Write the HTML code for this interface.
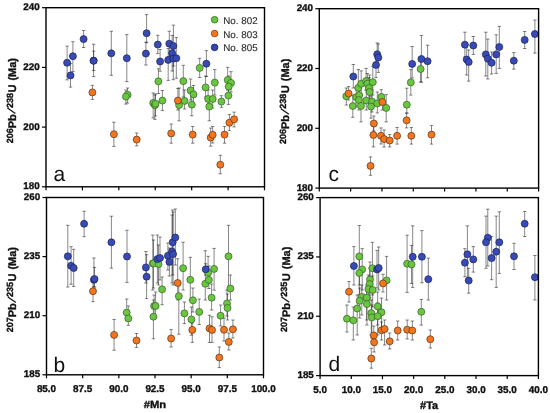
<!DOCTYPE html><html><head><meta charset="utf-8"><style>html,body{margin:0;padding:0;background:#fff;overflow:hidden}svg{display:block;will-change:transform}text{font-family:"Liberation Sans",sans-serif}.bt{fill:#111;stroke:#111;stroke-width:0.35px}</style></head><body>
<svg width="550" height="413" viewBox="0 0 550 413" text-rendering="geometricPrecision">
<rect width="550" height="413" fill="#fff"/>
<clipPath id="cpa"><rect x="46" y="7.7" width="218.5" height="179.1"/></clipPath>
<g clip-path="url(#cpa)">
<path d="M127.6 88V103M125.9 88H129.3M125.9 103H129.3" stroke="#000" stroke-opacity="0.47" stroke-width="1" fill="none"/>
<path d="M125.9 90V104.1M124.2 90H127.6M124.2 104.1H127.6" stroke="#000" stroke-opacity="0.47" stroke-width="1" fill="none"/>
<path d="M158.4 68.8V93.5M156.7 68.8H160.1M156.7 93.5H160.1" stroke="#000" stroke-opacity="0.47" stroke-width="1" fill="none"/>
<path d="M162.4 90.5V110.6M160.7 90.5H164.1M160.7 110.6H164.1" stroke="#000" stroke-opacity="0.47" stroke-width="1" fill="none"/>
<path d="M153.2 93V118M151.5 93H154.9M151.5 118H154.9" stroke="#000" stroke-opacity="0.47" stroke-width="1" fill="none"/>
<path d="M154.9 95V119.4M153.2 95H156.6M153.2 119.4H156.6" stroke="#000" stroke-opacity="0.47" stroke-width="1" fill="none"/>
<path d="M155.5 94V116M153.8 94H157.2M153.8 116H157.2" stroke="#000" stroke-opacity="0.47" stroke-width="1" fill="none"/>
<path d="M183.3 65.3V97.1M181.6 65.3H185M181.6 97.1H185" stroke="#000" stroke-opacity="0.47" stroke-width="1" fill="none"/>
<path d="M184.6 89.9V109M182.9 89.9H186.3M182.9 109H186.3" stroke="#000" stroke-opacity="0.47" stroke-width="1" fill="none"/>
<path d="M179.1 88V120.8M177.4 88H180.8M177.4 120.8H180.8" stroke="#000" stroke-opacity="0.47" stroke-width="1" fill="none"/>
<path d="M190.6 79V100M188.9 79H192.3M188.9 100H192.3" stroke="#000" stroke-opacity="0.47" stroke-width="1" fill="none"/>
<path d="M193.5 85.5V104M191.8 85.5H195.2M191.8 104H195.2" stroke="#000" stroke-opacity="0.47" stroke-width="1" fill="none"/>
<path d="M191.8 95V115.8M190.1 95H193.5M190.1 115.8H193.5" stroke="#000" stroke-opacity="0.47" stroke-width="1" fill="none"/>
<path d="M199.7 58.3V77.5M198 58.3H201.4M198 77.5H201.4" stroke="#000" stroke-opacity="0.47" stroke-width="1" fill="none"/>
<path d="M205.6 76V97M203.9 76H207.3M203.9 97H207.3" stroke="#000" stroke-opacity="0.47" stroke-width="1" fill="none"/>
<path d="M208.1 90V108M206.4 90H209.8M206.4 108H209.8" stroke="#000" stroke-opacity="0.47" stroke-width="1" fill="none"/>
<path d="M212.7 90V108M211 90H214.4M211 108H214.4" stroke="#000" stroke-opacity="0.47" stroke-width="1" fill="none"/>
<path d="M209.3 97V120.8M207.6 97H211M207.6 120.8H211" stroke="#000" stroke-opacity="0.47" stroke-width="1" fill="none"/>
<path d="M214.8 69.6V95M213.1 69.6H216.5M213.1 95H216.5" stroke="#000" stroke-opacity="0.47" stroke-width="1" fill="none"/>
<path d="M221.4 95.7V107.3M219.7 95.7H223.1M219.7 107.3H223.1" stroke="#000" stroke-opacity="0.47" stroke-width="1" fill="none"/>
<path d="M227.7 67.3V90M226 67.3H229.4M226 90H229.4" stroke="#000" stroke-opacity="0.47" stroke-width="1" fill="none"/>
<path d="M231 71.7V92M229.3 71.7H232.7M229.3 92H232.7" stroke="#000" stroke-opacity="0.47" stroke-width="1" fill="none"/>
<path d="M228.7 76V96M227 76H230.4M227 96H230.4" stroke="#000" stroke-opacity="0.47" stroke-width="1" fill="none"/>
<path d="M228.4 86V104.4M226.7 86H230.1M226.7 104.4H230.1" stroke="#000" stroke-opacity="0.47" stroke-width="1" fill="none"/>
<path d="M92.4 85.3V99.4M90.7 85.3H94.1M90.7 99.4H94.1" stroke="#000" stroke-opacity="0.47" stroke-width="1" fill="none"/>
<path d="M113.9 122.2V146.4M112.2 122.2H115.6M112.2 146.4H115.6" stroke="#000" stroke-opacity="0.47" stroke-width="1" fill="none"/>
<path d="M136.7 133V145.9M135 133H138.4M135 145.9H138.4" stroke="#000" stroke-opacity="0.47" stroke-width="1" fill="none"/>
<path d="M171.2 124V143.2M169.5 124H172.9M169.5 143.2H172.9" stroke="#000" stroke-opacity="0.47" stroke-width="1" fill="none"/>
<path d="M177.9 88.4V110M176.2 88.4H179.6M176.2 110H179.6" stroke="#000" stroke-opacity="0.47" stroke-width="1" fill="none"/>
<path d="M192.7 126.5V143.2M191 126.5H194.4M191 143.2H194.4" stroke="#000" stroke-opacity="0.47" stroke-width="1" fill="none"/>
<path d="M210.7 128V146.2M209 128H212.4M209 146.2H212.4" stroke="#000" stroke-opacity="0.47" stroke-width="1" fill="none"/>
<path d="M212.7 126.5V143M211 126.5H214.4M211 143H214.4" stroke="#000" stroke-opacity="0.47" stroke-width="1" fill="none"/>
<path d="M224.5 126.5V143.2M222.8 126.5H226.2M222.8 143.2H226.2" stroke="#000" stroke-opacity="0.47" stroke-width="1" fill="none"/>
<path d="M229.4 114.6V130.6M227.7 114.6H231.1M227.7 130.6H231.1" stroke="#000" stroke-opacity="0.47" stroke-width="1" fill="none"/>
<path d="M234.1 112.1V126.9M232.4 112.1H235.8M232.4 126.9H235.8" stroke="#000" stroke-opacity="0.47" stroke-width="1" fill="none"/>
<path d="M220.3 155.3V173.8M218.6 155.3H222M218.6 173.8H222" stroke="#000" stroke-opacity="0.47" stroke-width="1" fill="none"/>
<path d="M67.1 46.1V79.9M65.4 46.1H68.8M65.4 79.9H68.8" stroke="#000" stroke-opacity="0.47" stroke-width="1" fill="none"/>
<path d="M72.9 41.7V71.5M71.2 41.7H74.6M71.2 71.5H74.6" stroke="#000" stroke-opacity="0.47" stroke-width="1" fill="none"/>
<path d="M70.5 63.5V87.1M68.8 63.5H72.2M68.8 87.1H72.2" stroke="#000" stroke-opacity="0.47" stroke-width="1" fill="none"/>
<path d="M83.6 30.5V47.5M81.9 30.5H85.3M81.9 47.5H85.3" stroke="#000" stroke-opacity="0.47" stroke-width="1" fill="none"/>
<path d="M93.6 44.2V76.6M91.9 44.2H95.3M91.9 76.6H95.3" stroke="#000" stroke-opacity="0.47" stroke-width="1" fill="none"/>
<path d="M93.6 51.1V70.5M91.9 51.1H95.3M91.9 70.5H95.3" stroke="#000" stroke-opacity="0.47" stroke-width="1" fill="none"/>
<path d="M111.3 31.3V75.3M109.6 31.3H113M109.6 75.3H113" stroke="#000" stroke-opacity="0.47" stroke-width="1" fill="none"/>
<path d="M126.8 34.6V81.6M125.1 34.6H128.5M125.1 81.6H128.5" stroke="#000" stroke-opacity="0.47" stroke-width="1" fill="none"/>
<path d="M146.6 14.6V42.7M144.9 14.6H148.3M144.9 42.7H148.3" stroke="#000" stroke-opacity="0.47" stroke-width="1" fill="none"/>
<path d="M145.9 42.2V65M144.2 42.2H147.6M144.2 65H147.6" stroke="#000" stroke-opacity="0.47" stroke-width="1" fill="none"/>
<path d="M157.8 35.3V53.6M156.1 35.3H159.5M156.1 53.6H159.5" stroke="#000" stroke-opacity="0.47" stroke-width="1" fill="none"/>
<path d="M160.1 49.5V71.2M158.4 49.5H161.8M158.4 71.2H161.8" stroke="#000" stroke-opacity="0.47" stroke-width="1" fill="none"/>
<path d="M169.3 31.2V56.5M167.6 31.2H171M167.6 56.5H171" stroke="#000" stroke-opacity="0.47" stroke-width="1" fill="none"/>
<path d="M173.4 25.1V66M171.7 25.1H175.1M171.7 66H175.1" stroke="#000" stroke-opacity="0.47" stroke-width="1" fill="none"/>
<path d="M172.2 35.4V71M170.5 35.4H173.9M170.5 71H173.9" stroke="#000" stroke-opacity="0.47" stroke-width="1" fill="none"/>
<path d="M168.2 48.5V80.4M166.5 48.5H169.9M166.5 80.4H169.9" stroke="#000" stroke-opacity="0.47" stroke-width="1" fill="none"/>
<path d="M173.3 44V79.7M171.6 44H175M171.6 79.7H175" stroke="#000" stroke-opacity="0.47" stroke-width="1" fill="none"/>
<path d="M176.3 37.6V78.2M174.6 37.6H178M174.6 78.2H178" stroke="#000" stroke-opacity="0.47" stroke-width="1" fill="none"/>
<path d="M206.4 50.6V76.5M204.7 50.6H208.1M204.7 76.5H208.1" stroke="#000" stroke-opacity="0.47" stroke-width="1" fill="none"/>
<circle cx="127.6" cy="94.7" r="3.5" fill="#6ac63e" stroke="#36602a" stroke-width="0.7"/>
<circle cx="125.9" cy="96.6" r="3.5" fill="#6ac63e" stroke="#36602a" stroke-width="0.7"/>
<circle cx="158.4" cy="81.3" r="3.5" fill="#6ac63e" stroke="#36602a" stroke-width="0.7"/>
<circle cx="162.4" cy="100.6" r="3.5" fill="#6ac63e" stroke="#36602a" stroke-width="0.7"/>
<circle cx="153.2" cy="103" r="3.5" fill="#6ac63e" stroke="#36602a" stroke-width="0.7"/>
<circle cx="154.9" cy="105.2" r="3.5" fill="#6ac63e" stroke="#36602a" stroke-width="0.7"/>
<circle cx="155.5" cy="103.8" r="3.5" fill="#6ac63e" stroke="#36602a" stroke-width="0.7"/>
<circle cx="183.3" cy="81.1" r="3.5" fill="#6ac63e" stroke="#36602a" stroke-width="0.7"/>
<circle cx="184.6" cy="100.9" r="3.5" fill="#6ac63e" stroke="#36602a" stroke-width="0.7"/>
<circle cx="179.1" cy="105.1" r="3.5" fill="#6ac63e" stroke="#36602a" stroke-width="0.7"/>
<circle cx="190.6" cy="90.4" r="3.5" fill="#6ac63e" stroke="#36602a" stroke-width="0.7"/>
<circle cx="193.5" cy="94.4" r="3.5" fill="#6ac63e" stroke="#36602a" stroke-width="0.7"/>
<circle cx="191.8" cy="104.7" r="3.5" fill="#6ac63e" stroke="#36602a" stroke-width="0.7"/>
<circle cx="199.7" cy="67.9" r="3.5" fill="#6ac63e" stroke="#36602a" stroke-width="0.7"/>
<circle cx="205.6" cy="87.4" r="3.5" fill="#6ac63e" stroke="#36602a" stroke-width="0.7"/>
<circle cx="208.1" cy="98.9" r="3.5" fill="#6ac63e" stroke="#36602a" stroke-width="0.7"/>
<circle cx="212.7" cy="99" r="3.5" fill="#6ac63e" stroke="#36602a" stroke-width="0.7"/>
<circle cx="209.3" cy="106.6" r="3.5" fill="#6ac63e" stroke="#36602a" stroke-width="0.7"/>
<circle cx="214.8" cy="82.6" r="3.5" fill="#6ac63e" stroke="#36602a" stroke-width="0.7"/>
<circle cx="221.4" cy="101.6" r="3.5" fill="#6ac63e" stroke="#36602a" stroke-width="0.7"/>
<circle cx="227.7" cy="80" r="3.5" fill="#6ac63e" stroke="#36602a" stroke-width="0.7"/>
<circle cx="231" cy="82.9" r="3.5" fill="#6ac63e" stroke="#36602a" stroke-width="0.7"/>
<circle cx="228.7" cy="86.6" r="3.5" fill="#6ac63e" stroke="#36602a" stroke-width="0.7"/>
<circle cx="228.4" cy="95.6" r="3.5" fill="#6ac63e" stroke="#36602a" stroke-width="0.7"/>
<circle cx="92.4" cy="92.4" r="3.5" fill="#f3761f" stroke="#5a3318" stroke-width="0.7"/>
<circle cx="113.9" cy="134.2" r="3.5" fill="#f3761f" stroke="#5a3318" stroke-width="0.7"/>
<circle cx="136.7" cy="139.6" r="3.5" fill="#f3761f" stroke="#5a3318" stroke-width="0.7"/>
<circle cx="171.2" cy="133.4" r="3.5" fill="#f3761f" stroke="#5a3318" stroke-width="0.7"/>
<circle cx="177.9" cy="100.6" r="3.5" fill="#f3761f" stroke="#5a3318" stroke-width="0.7"/>
<circle cx="192.7" cy="134.6" r="3.5" fill="#f3761f" stroke="#5a3318" stroke-width="0.7"/>
<circle cx="210.7" cy="137.6" r="3.5" fill="#f3761f" stroke="#5a3318" stroke-width="0.7"/>
<circle cx="212.7" cy="134.8" r="3.5" fill="#f3761f" stroke="#5a3318" stroke-width="0.7"/>
<circle cx="224.5" cy="134.6" r="3.5" fill="#f3761f" stroke="#5a3318" stroke-width="0.7"/>
<circle cx="229.4" cy="122.7" r="3.5" fill="#f3761f" stroke="#5a3318" stroke-width="0.7"/>
<circle cx="234.1" cy="119.3" r="3.5" fill="#f3761f" stroke="#5a3318" stroke-width="0.7"/>
<circle cx="220.3" cy="164.7" r="3.5" fill="#f3761f" stroke="#5a3318" stroke-width="0.7"/>
<circle cx="67.1" cy="62.8" r="3.5" fill="#3849b8" stroke="#1a2450" stroke-width="0.7"/>
<circle cx="72.9" cy="56.2" r="3.5" fill="#3849b8" stroke="#1a2450" stroke-width="0.7"/>
<circle cx="70.5" cy="75.4" r="3.5" fill="#3849b8" stroke="#1a2450" stroke-width="0.7"/>
<circle cx="83.6" cy="39.1" r="3.5" fill="#3849b8" stroke="#1a2450" stroke-width="0.7"/>
<circle cx="93.6" cy="60.6" r="3.5" fill="#3849b8" stroke="#1a2450" stroke-width="0.7"/>
<circle cx="93.6" cy="60.8" r="3.5" fill="#3849b8" stroke="#1a2450" stroke-width="0.7"/>
<circle cx="111.3" cy="53.3" r="3.5" fill="#3849b8" stroke="#1a2450" stroke-width="0.7"/>
<circle cx="126.8" cy="58.2" r="3.5" fill="#3849b8" stroke="#1a2450" stroke-width="0.7"/>
<circle cx="146.6" cy="33.2" r="3.5" fill="#3849b8" stroke="#1a2450" stroke-width="0.7"/>
<circle cx="145.9" cy="53.6" r="3.5" fill="#3849b8" stroke="#1a2450" stroke-width="0.7"/>
<circle cx="157.8" cy="44.6" r="3.5" fill="#3849b8" stroke="#1a2450" stroke-width="0.7"/>
<circle cx="160.1" cy="61.5" r="3.5" fill="#3849b8" stroke="#1a2450" stroke-width="0.7"/>
<circle cx="169.3" cy="43.7" r="3.5" fill="#3849b8" stroke="#1a2450" stroke-width="0.7"/>
<circle cx="173.4" cy="46" r="3.5" fill="#3849b8" stroke="#1a2450" stroke-width="0.7"/>
<circle cx="172.2" cy="53.2" r="3.5" fill="#3849b8" stroke="#1a2450" stroke-width="0.7"/>
<circle cx="168.2" cy="59.9" r="3.5" fill="#3849b8" stroke="#1a2450" stroke-width="0.7"/>
<circle cx="173.3" cy="58.6" r="3.5" fill="#3849b8" stroke="#1a2450" stroke-width="0.7"/>
<circle cx="176.3" cy="58.2" r="3.5" fill="#3849b8" stroke="#1a2450" stroke-width="0.7"/>
<circle cx="206.4" cy="63.7" r="3.5" fill="#3849b8" stroke="#1a2450" stroke-width="0.7"/>
</g>
<clipPath id="cpb"><rect x="46.5" y="197.5" width="217" height="177.3"/></clipPath>
<g clip-path="url(#cpb)">
<path d="M152.8 235.1V290M151.1 235.1H154.5M151.1 290H154.5" stroke="#000" stroke-opacity="0.47" stroke-width="1" fill="none"/>
<path d="M153.5 240V288M151.8 240H155.2M151.8 288H155.2" stroke="#000" stroke-opacity="0.47" stroke-width="1" fill="none"/>
<path d="M158.5 245V285M156.8 245H160.2M156.8 285H160.2" stroke="#000" stroke-opacity="0.47" stroke-width="1" fill="none"/>
<path d="M126.7 299V320M125 299H128.4M125 320H128.4" stroke="#000" stroke-opacity="0.47" stroke-width="1" fill="none"/>
<path d="M128.3 306V325.3M126.6 306H130M126.6 325.3H130" stroke="#000" stroke-opacity="0.47" stroke-width="1" fill="none"/>
<path d="M154.1 295V318M152.4 295H155.8M152.4 318H155.8" stroke="#000" stroke-opacity="0.47" stroke-width="1" fill="none"/>
<path d="M153.4 300V338.8M151.7 300H155.1M151.7 338.8H155.1" stroke="#000" stroke-opacity="0.47" stroke-width="1" fill="none"/>
<path d="M155.6 292V318M153.9 292H157.3M153.9 318H157.3" stroke="#000" stroke-opacity="0.47" stroke-width="1" fill="none"/>
<path d="M162.1 277V304.7M160.4 277H163.8M160.4 304.7H163.8" stroke="#000" stroke-opacity="0.47" stroke-width="1" fill="none"/>
<path d="M183.1 242.3V290M181.4 242.3H184.8M181.4 290H184.8" stroke="#000" stroke-opacity="0.47" stroke-width="1" fill="none"/>
<path d="M190.3 257.3V300M188.6 257.3H192M188.6 300H192" stroke="#000" stroke-opacity="0.47" stroke-width="1" fill="none"/>
<path d="M178.8 283V334.2M177.1 283H180.5M177.1 334.2H180.5" stroke="#000" stroke-opacity="0.47" stroke-width="1" fill="none"/>
<path d="M192.9 288V312M191.2 288H194.6M191.2 312H194.6" stroke="#000" stroke-opacity="0.47" stroke-width="1" fill="none"/>
<path d="M184.4 302V323.6M182.7 302H186.1M182.7 323.6H186.1" stroke="#000" stroke-opacity="0.47" stroke-width="1" fill="none"/>
<path d="M191.4 307V335.2M189.7 307H193.1M189.7 335.2H193.1" stroke="#000" stroke-opacity="0.47" stroke-width="1" fill="none"/>
<path d="M199.2 299V324.5M197.5 299H200.9M197.5 324.5H200.9" stroke="#000" stroke-opacity="0.47" stroke-width="1" fill="none"/>
<path d="M205.3 250.7V300M203.6 250.7H207M203.6 300H207" stroke="#000" stroke-opacity="0.47" stroke-width="1" fill="none"/>
<path d="M208.9 266V288.5M207.2 266H210.6M207.2 288.5H210.6" stroke="#000" stroke-opacity="0.47" stroke-width="1" fill="none"/>
<path d="M208.1 256.3V283M206.4 256.3H209.8M206.4 283H209.8" stroke="#000" stroke-opacity="0.47" stroke-width="1" fill="none"/>
<path d="M211.6 284V310M209.9 284H213.3M209.9 310H213.3" stroke="#000" stroke-opacity="0.47" stroke-width="1" fill="none"/>
<path d="M214.1 248.4V290.1M212.4 248.4H215.8M212.4 290.1H215.8" stroke="#000" stroke-opacity="0.47" stroke-width="1" fill="none"/>
<path d="M220.6 305V326M218.9 305H222.3M218.9 326H222.3" stroke="#000" stroke-opacity="0.47" stroke-width="1" fill="none"/>
<path d="M227 290V316M225.3 290H228.7M225.3 316H228.7" stroke="#000" stroke-opacity="0.47" stroke-width="1" fill="none"/>
<path d="M227.5 294V320M225.8 294H229.2M225.8 320H229.2" stroke="#000" stroke-opacity="0.47" stroke-width="1" fill="none"/>
<path d="M228.5 225.3V290M226.8 225.3H230.2M226.8 290H230.2" stroke="#000" stroke-opacity="0.47" stroke-width="1" fill="none"/>
<path d="M230.4 275V300M228.7 275H232.1M228.7 300H232.1" stroke="#000" stroke-opacity="0.47" stroke-width="1" fill="none"/>
<path d="M93 282V301.6M91.3 282H94.7M91.3 301.6H94.7" stroke="#000" stroke-opacity="0.47" stroke-width="1" fill="none"/>
<path d="M114.1 319.5V350.2M112.4 319.5H115.8M112.4 350.2H115.8" stroke="#000" stroke-opacity="0.47" stroke-width="1" fill="none"/>
<path d="M136.5 333.5V347.4M134.8 333.5H138.2M134.8 347.4H138.2" stroke="#000" stroke-opacity="0.47" stroke-width="1" fill="none"/>
<path d="M177.7 258.7V300M176 258.7H179.4M176 300H179.4" stroke="#000" stroke-opacity="0.47" stroke-width="1" fill="none"/>
<path d="M171.1 329.6V347M169.4 329.6H172.8M169.4 347H172.8" stroke="#000" stroke-opacity="0.47" stroke-width="1" fill="none"/>
<path d="M192.3 323V342.4M190.6 323H194M190.6 342.4H194" stroke="#000" stroke-opacity="0.47" stroke-width="1" fill="none"/>
<path d="M209.5 315.3V342.4M207.8 315.3H211.2M207.8 342.4H211.2" stroke="#000" stroke-opacity="0.47" stroke-width="1" fill="none"/>
<path d="M212 316.8V342.4M210.3 316.8H213.7M210.3 342.4H213.7" stroke="#000" stroke-opacity="0.47" stroke-width="1" fill="none"/>
<path d="M224 318V341M222.3 318H225.7M222.3 341H225.7" stroke="#000" stroke-opacity="0.47" stroke-width="1" fill="none"/>
<path d="M232.9 320V338M231.2 320H234.6M231.2 338H234.6" stroke="#000" stroke-opacity="0.47" stroke-width="1" fill="none"/>
<path d="M228.8 333V350M227.1 333H230.5M227.1 350H230.5" stroke="#000" stroke-opacity="0.47" stroke-width="1" fill="none"/>
<path d="M219.3 347V367.6M217.6 347H221M217.6 367.6H221" stroke="#000" stroke-opacity="0.47" stroke-width="1" fill="none"/>
<path d="M67.8 225.3V287M66.1 225.3H69.5M66.1 287H69.5" stroke="#000" stroke-opacity="0.47" stroke-width="1" fill="none"/>
<path d="M71.1 246.7V284.3M69.4 246.7H72.8M69.4 284.3H72.8" stroke="#000" stroke-opacity="0.47" stroke-width="1" fill="none"/>
<path d="M73.7 249.3V286.5M72 249.3H75.4M72 286.5H75.4" stroke="#000" stroke-opacity="0.47" stroke-width="1" fill="none"/>
<path d="M84.1 211.2V236.7M82.4 211.2H85.8M82.4 236.7H85.8" stroke="#000" stroke-opacity="0.47" stroke-width="1" fill="none"/>
<path d="M93.9 258V287M92.2 258H95.6M92.2 287H95.6" stroke="#000" stroke-opacity="0.47" stroke-width="1" fill="none"/>
<path d="M94.5 267.4V287M92.8 267.4H96.2M92.8 287H96.2" stroke="#000" stroke-opacity="0.47" stroke-width="1" fill="none"/>
<path d="M111.4 216.2V268.2M109.7 216.2H113.1M109.7 268.2H113.1" stroke="#000" stroke-opacity="0.47" stroke-width="1" fill="none"/>
<path d="M127 230.3V282.4M125.3 230.3H128.7M125.3 282.4H128.7" stroke="#000" stroke-opacity="0.47" stroke-width="1" fill="none"/>
<path d="M145.9 251.5V283M144.2 251.5H147.6M144.2 283H147.6" stroke="#000" stroke-opacity="0.47" stroke-width="1" fill="none"/>
<path d="M146.6 254.7V298.6M144.9 254.7H148.3M144.9 298.6H148.3" stroke="#000" stroke-opacity="0.47" stroke-width="1" fill="none"/>
<path d="M157.4 235V283M155.7 235H159.1M155.7 283H159.1" stroke="#000" stroke-opacity="0.47" stroke-width="1" fill="none"/>
<path d="M160 237V280M158.3 237H161.7M158.3 280H161.7" stroke="#000" stroke-opacity="0.47" stroke-width="1" fill="none"/>
<path d="M167.9 243V270M166.2 243H169.6M166.2 270H169.6" stroke="#000" stroke-opacity="0.47" stroke-width="1" fill="none"/>
<path d="M169.4 248V276M167.7 248H171.1M167.7 276H171.1" stroke="#000" stroke-opacity="0.47" stroke-width="1" fill="none"/>
<path d="M172 215V283M170.3 215H173.7M170.3 283H173.7" stroke="#000" stroke-opacity="0.47" stroke-width="1" fill="none"/>
<path d="M173.1 212V285M171.4 212H174.8M171.4 285H174.8" stroke="#000" stroke-opacity="0.47" stroke-width="1" fill="none"/>
<path d="M172.7 210V275M171 210H174.4M171 275H174.4" stroke="#000" stroke-opacity="0.47" stroke-width="1" fill="none"/>
<path d="M175.3 209V265M173.6 209H177M173.6 265H177" stroke="#000" stroke-opacity="0.47" stroke-width="1" fill="none"/>
<path d="M205.7 263.7V275M204 263.7H207.4M204 275H207.4" stroke="#000" stroke-opacity="0.47" stroke-width="1" fill="none"/>
<circle cx="152.8" cy="263.4" r="3.5" fill="#6ac63e" stroke="#36602a" stroke-width="0.7"/>
<circle cx="153.5" cy="263.4" r="3.5" fill="#6ac63e" stroke="#36602a" stroke-width="0.7"/>
<circle cx="158.5" cy="264.1" r="3.5" fill="#6ac63e" stroke="#36602a" stroke-width="0.7"/>
<circle cx="126.7" cy="312.6" r="3.5" fill="#6ac63e" stroke="#36602a" stroke-width="0.7"/>
<circle cx="128.3" cy="318.4" r="3.5" fill="#6ac63e" stroke="#36602a" stroke-width="0.7"/>
<circle cx="154.1" cy="306" r="3.5" fill="#6ac63e" stroke="#36602a" stroke-width="0.7"/>
<circle cx="153.4" cy="316.7" r="3.5" fill="#6ac63e" stroke="#36602a" stroke-width="0.7"/>
<circle cx="155.6" cy="305.9" r="3.5" fill="#6ac63e" stroke="#36602a" stroke-width="0.7"/>
<circle cx="162.1" cy="289.3" r="3.5" fill="#6ac63e" stroke="#36602a" stroke-width="0.7"/>
<circle cx="183.1" cy="268.2" r="3.5" fill="#6ac63e" stroke="#36602a" stroke-width="0.7"/>
<circle cx="190.3" cy="279.8" r="3.5" fill="#6ac63e" stroke="#36602a" stroke-width="0.7"/>
<circle cx="178.8" cy="296.2" r="3.5" fill="#6ac63e" stroke="#36602a" stroke-width="0.7"/>
<circle cx="192.9" cy="300.3" r="3.5" fill="#6ac63e" stroke="#36602a" stroke-width="0.7"/>
<circle cx="184.4" cy="313.4" r="3.5" fill="#6ac63e" stroke="#36602a" stroke-width="0.7"/>
<circle cx="191.4" cy="319.4" r="3.5" fill="#6ac63e" stroke="#36602a" stroke-width="0.7"/>
<circle cx="199.2" cy="311.9" r="3.5" fill="#6ac63e" stroke="#36602a" stroke-width="0.7"/>
<circle cx="205.3" cy="283.8" r="3.5" fill="#6ac63e" stroke="#36602a" stroke-width="0.7"/>
<circle cx="208.9" cy="279.9" r="3.5" fill="#6ac63e" stroke="#36602a" stroke-width="0.7"/>
<circle cx="208.1" cy="272.8" r="3.5" fill="#6ac63e" stroke="#36602a" stroke-width="0.7"/>
<circle cx="211.6" cy="297.7" r="3.5" fill="#6ac63e" stroke="#36602a" stroke-width="0.7"/>
<circle cx="214.1" cy="268.9" r="3.5" fill="#6ac63e" stroke="#36602a" stroke-width="0.7"/>
<circle cx="220.6" cy="315.7" r="3.5" fill="#6ac63e" stroke="#36602a" stroke-width="0.7"/>
<circle cx="227" cy="303.4" r="3.5" fill="#6ac63e" stroke="#36602a" stroke-width="0.7"/>
<circle cx="227.5" cy="308" r="3.5" fill="#6ac63e" stroke="#36602a" stroke-width="0.7"/>
<circle cx="228.5" cy="256.3" r="3.5" fill="#6ac63e" stroke="#36602a" stroke-width="0.7"/>
<circle cx="230.4" cy="288.5" r="3.5" fill="#6ac63e" stroke="#36602a" stroke-width="0.7"/>
<circle cx="93" cy="291.2" r="3.5" fill="#f3761f" stroke="#5a3318" stroke-width="0.7"/>
<circle cx="114.1" cy="334.9" r="3.5" fill="#f3761f" stroke="#5a3318" stroke-width="0.7"/>
<circle cx="136.5" cy="340.5" r="3.5" fill="#f3761f" stroke="#5a3318" stroke-width="0.7"/>
<circle cx="177.7" cy="283" r="3.5" fill="#f3761f" stroke="#5a3318" stroke-width="0.7"/>
<circle cx="171.1" cy="338.5" r="3.5" fill="#f3761f" stroke="#5a3318" stroke-width="0.7"/>
<circle cx="192.3" cy="329.9" r="3.5" fill="#f3761f" stroke="#5a3318" stroke-width="0.7"/>
<circle cx="209.5" cy="328.4" r="3.5" fill="#f3761f" stroke="#5a3318" stroke-width="0.7"/>
<circle cx="212" cy="329.9" r="3.5" fill="#f3761f" stroke="#5a3318" stroke-width="0.7"/>
<circle cx="224" cy="329.8" r="3.5" fill="#f3761f" stroke="#5a3318" stroke-width="0.7"/>
<circle cx="232.9" cy="329.3" r="3.5" fill="#f3761f" stroke="#5a3318" stroke-width="0.7"/>
<circle cx="228.8" cy="341.9" r="3.5" fill="#f3761f" stroke="#5a3318" stroke-width="0.7"/>
<circle cx="219.3" cy="357.5" r="3.5" fill="#f3761f" stroke="#5a3318" stroke-width="0.7"/>
<circle cx="67.8" cy="256.3" r="3.5" fill="#3849b8" stroke="#1a2450" stroke-width="0.7"/>
<circle cx="71.1" cy="265.8" r="3.5" fill="#3849b8" stroke="#1a2450" stroke-width="0.7"/>
<circle cx="73.7" cy="268" r="3.5" fill="#3849b8" stroke="#1a2450" stroke-width="0.7"/>
<circle cx="84.1" cy="223.8" r="3.5" fill="#3849b8" stroke="#1a2450" stroke-width="0.7"/>
<circle cx="93.9" cy="279.8" r="3.5" fill="#3849b8" stroke="#1a2450" stroke-width="0.7"/>
<circle cx="94.5" cy="279" r="3.5" fill="#3849b8" stroke="#1a2450" stroke-width="0.7"/>
<circle cx="111.4" cy="242.3" r="3.5" fill="#3849b8" stroke="#1a2450" stroke-width="0.7"/>
<circle cx="127" cy="256.5" r="3.5" fill="#3849b8" stroke="#1a2450" stroke-width="0.7"/>
<circle cx="145.9" cy="267.4" r="3.5" fill="#3849b8" stroke="#1a2450" stroke-width="0.7"/>
<circle cx="146.6" cy="276.7" r="3.5" fill="#3849b8" stroke="#1a2450" stroke-width="0.7"/>
<circle cx="157.4" cy="259.1" r="3.5" fill="#3849b8" stroke="#1a2450" stroke-width="0.7"/>
<circle cx="160" cy="258" r="3.5" fill="#3849b8" stroke="#1a2450" stroke-width="0.7"/>
<circle cx="167.9" cy="255.8" r="3.5" fill="#3849b8" stroke="#1a2450" stroke-width="0.7"/>
<circle cx="169.4" cy="261.9" r="3.5" fill="#3849b8" stroke="#1a2450" stroke-width="0.7"/>
<circle cx="172" cy="251.5" r="3.5" fill="#3849b8" stroke="#1a2450" stroke-width="0.7"/>
<circle cx="173.1" cy="254.1" r="3.5" fill="#3849b8" stroke="#1a2450" stroke-width="0.7"/>
<circle cx="172.7" cy="242.3" r="3.5" fill="#3849b8" stroke="#1a2450" stroke-width="0.7"/>
<circle cx="175.3" cy="237.5" r="3.5" fill="#3849b8" stroke="#1a2450" stroke-width="0.7"/>
<circle cx="205.7" cy="269.3" r="3.5" fill="#3849b8" stroke="#1a2450" stroke-width="0.7"/>
</g>
<clipPath id="cpc"><rect x="319.3" y="8.7" width="219.3" height="179.4"/></clipPath>
<g clip-path="url(#cpc)">
<path d="M346.3 88V105M344.6 88H348M344.6 105H348" stroke="#000" stroke-opacity="0.47" stroke-width="1" fill="none"/>
<path d="M352.8 95V117.3M351.1 95H354.5M351.1 117.3H354.5" stroke="#000" stroke-opacity="0.47" stroke-width="1" fill="none"/>
<path d="M356.2 88V107M354.5 88H357.9M354.5 107H357.9" stroke="#000" stroke-opacity="0.47" stroke-width="1" fill="none"/>
<path d="M359.2 86V105M357.5 86H360.9M357.5 105H360.9" stroke="#000" stroke-opacity="0.47" stroke-width="1" fill="none"/>
<path d="M358.9 90V110M357.2 90H360.6M357.2 110H360.6" stroke="#000" stroke-opacity="0.47" stroke-width="1" fill="none"/>
<path d="M358.3 69.5V98M356.6 69.5H360M356.6 98H360" stroke="#000" stroke-opacity="0.47" stroke-width="1" fill="none"/>
<path d="M361.2 70.9V95M359.5 70.9H362.9M359.5 95H362.9" stroke="#000" stroke-opacity="0.47" stroke-width="1" fill="none"/>
<path d="M366.1 68.4V90M364.4 68.4H367.8M364.4 90H367.8" stroke="#000" stroke-opacity="0.47" stroke-width="1" fill="none"/>
<path d="M367.4 73.5V92M365.7 73.5H369.1M365.7 92H369.1" stroke="#000" stroke-opacity="0.47" stroke-width="1" fill="none"/>
<path d="M372.8 66.5V95M371.1 66.5H374.5M371.1 95H374.5" stroke="#000" stroke-opacity="0.47" stroke-width="1" fill="none"/>
<path d="M369 77.5V100M367.3 77.5H370.7M367.3 100H370.7" stroke="#000" stroke-opacity="0.47" stroke-width="1" fill="none"/>
<path d="M369.6 75V102M367.9 75H371.3M367.9 102H371.3" stroke="#000" stroke-opacity="0.47" stroke-width="1" fill="none"/>
<path d="M361 95V121.9M359.3 95H362.7M359.3 121.9H362.7" stroke="#000" stroke-opacity="0.47" stroke-width="1" fill="none"/>
<path d="M366.3 90V110M364.6 90H368M364.6 110H368" stroke="#000" stroke-opacity="0.47" stroke-width="1" fill="none"/>
<path d="M372 90V112M370.3 90H373.7M370.3 112H373.7" stroke="#000" stroke-opacity="0.47" stroke-width="1" fill="none"/>
<path d="M371 96V118.2M369.3 96H372.7M369.3 118.2H372.7" stroke="#000" stroke-opacity="0.47" stroke-width="1" fill="none"/>
<path d="M377.3 92V113M375.6 92H379M375.6 113H379" stroke="#000" stroke-opacity="0.47" stroke-width="1" fill="none"/>
<path d="M381.3 89.7V104M379.6 89.7H383M379.6 104H383" stroke="#000" stroke-opacity="0.47" stroke-width="1" fill="none"/>
<path d="M386.2 94.6V121.9M384.5 94.6H387.9M384.5 121.9H387.9" stroke="#000" stroke-opacity="0.47" stroke-width="1" fill="none"/>
<path d="M406.8 88.2V113M405.1 88.2H408.5M405.1 113H408.5" stroke="#000" stroke-opacity="0.47" stroke-width="1" fill="none"/>
<path d="M410.8 69.6V95.1M409.1 69.6H412.5M409.1 95.1H412.5" stroke="#000" stroke-opacity="0.47" stroke-width="1" fill="none"/>
<path d="M420.6 60V82M418.9 60H422.3M418.9 82H422.3" stroke="#000" stroke-opacity="0.47" stroke-width="1" fill="none"/>
<path d="M348.6 86.6V100M346.9 86.6H350.3M346.9 100H350.3" stroke="#000" stroke-opacity="0.47" stroke-width="1" fill="none"/>
<path d="M382.4 95V110M380.7 95H384.1M380.7 110H384.1" stroke="#000" stroke-opacity="0.47" stroke-width="1" fill="none"/>
<path d="M373.8 116V131M372.1 116H375.5M372.1 131H375.5" stroke="#000" stroke-opacity="0.47" stroke-width="1" fill="none"/>
<path d="M373.4 126V146.9M371.7 126H375.1M371.7 146.9H375.1" stroke="#000" stroke-opacity="0.47" stroke-width="1" fill="none"/>
<path d="M381 127.9V144M379.3 127.9H382.7M379.3 144H382.7" stroke="#000" stroke-opacity="0.47" stroke-width="1" fill="none"/>
<path d="M384.1 130V147M382.4 130H385.8M382.4 147H385.8" stroke="#000" stroke-opacity="0.47" stroke-width="1" fill="none"/>
<path d="M389.7 134.6V146.9M388 134.6H391.4M388 146.9H391.4" stroke="#000" stroke-opacity="0.47" stroke-width="1" fill="none"/>
<path d="M397.1 127.5V144.1M395.4 127.5H398.8M395.4 144.1H398.8" stroke="#000" stroke-opacity="0.47" stroke-width="1" fill="none"/>
<path d="M411.3 127.5V144.1M409.6 127.5H413M409.6 144.1H413" stroke="#000" stroke-opacity="0.47" stroke-width="1" fill="none"/>
<path d="M431.5 125.6V144.1M429.8 125.6H433.2M429.8 144.1H433.2" stroke="#000" stroke-opacity="0.47" stroke-width="1" fill="none"/>
<path d="M406.6 113.2V127.9M404.9 113.2H408.3M404.9 127.9H408.3" stroke="#000" stroke-opacity="0.47" stroke-width="1" fill="none"/>
<path d="M370.5 156.9V175.3M368.8 156.9H372.2M368.8 175.3H372.2" stroke="#000" stroke-opacity="0.47" stroke-width="1" fill="none"/>
<path d="M353.3 64.5V88M351.6 64.5H355M351.6 88H355" stroke="#000" stroke-opacity="0.47" stroke-width="1" fill="none"/>
<path d="M377.2 42.9V66M375.5 42.9H378.9M375.5 66H378.9" stroke="#000" stroke-opacity="0.47" stroke-width="1" fill="none"/>
<path d="M378.3 44V72.4M376.6 44H380M376.6 72.4H380" stroke="#000" stroke-opacity="0.47" stroke-width="1" fill="none"/>
<path d="M376 55V77.6M374.3 55H377.7M374.3 77.6H377.7" stroke="#000" stroke-opacity="0.47" stroke-width="1" fill="none"/>
<path d="M412.2 46.5V78M410.5 46.5H413.9M410.5 78H413.9" stroke="#000" stroke-opacity="0.47" stroke-width="1" fill="none"/>
<path d="M421.4 35.5V82.2M419.7 35.5H423.1M419.7 82.2H423.1" stroke="#000" stroke-opacity="0.47" stroke-width="1" fill="none"/>
<path d="M427.6 45.2V77.8M425.9 45.2H429.3M425.9 77.8H429.3" stroke="#000" stroke-opacity="0.47" stroke-width="1" fill="none"/>
<path d="M464.9 32.2V57M463.2 32.2H466.6M463.2 57H466.6" stroke="#000" stroke-opacity="0.47" stroke-width="1" fill="none"/>
<path d="M473.3 36.5V54.4M471.6 36.5H475M471.6 54.4H475" stroke="#000" stroke-opacity="0.47" stroke-width="1" fill="none"/>
<path d="M466.7 45V75M465 45H468.4M465 75H468.4" stroke="#000" stroke-opacity="0.47" stroke-width="1" fill="none"/>
<path d="M468.7 50V81.1M467 50H470.4M467 81.1H470.4" stroke="#000" stroke-opacity="0.47" stroke-width="1" fill="none"/>
<path d="M485.8 32.2V76M484.1 32.2H487.5M484.1 76H487.5" stroke="#000" stroke-opacity="0.47" stroke-width="1" fill="none"/>
<path d="M487.8 39.1V79M486.1 39.1H489.5M486.1 79H489.5" stroke="#000" stroke-opacity="0.47" stroke-width="1" fill="none"/>
<path d="M491.6 52V74M489.9 52H493.3M489.9 74H493.3" stroke="#000" stroke-opacity="0.47" stroke-width="1" fill="none"/>
<path d="M496.2 34.8V73.4M494.5 34.8H497.9M494.5 73.4H497.9" stroke="#000" stroke-opacity="0.47" stroke-width="1" fill="none"/>
<path d="M499.3 26.4V68.4M497.6 26.4H501M497.6 68.4H501" stroke="#000" stroke-opacity="0.47" stroke-width="1" fill="none"/>
<path d="M513.8 52.6V69.1M512.1 52.6H515.5M512.1 69.1H515.5" stroke="#000" stroke-opacity="0.47" stroke-width="1" fill="none"/>
<path d="M524.7 31.5V48.5M523 31.5H526.4M523 48.5H526.4" stroke="#000" stroke-opacity="0.47" stroke-width="1" fill="none"/>
<path d="M534.9 20V53.1M533.2 20H536.6M533.2 53.1H536.6" stroke="#000" stroke-opacity="0.47" stroke-width="1" fill="none"/>
<circle cx="346.3" cy="96.2" r="3.5" fill="#6ac63e" stroke="#36602a" stroke-width="0.7"/>
<circle cx="352.8" cy="106" r="3.5" fill="#6ac63e" stroke="#36602a" stroke-width="0.7"/>
<circle cx="356.2" cy="97.2" r="3.5" fill="#6ac63e" stroke="#36602a" stroke-width="0.7"/>
<circle cx="359.2" cy="95.2" r="3.5" fill="#6ac63e" stroke="#36602a" stroke-width="0.7"/>
<circle cx="358.9" cy="100.1" r="3.5" fill="#6ac63e" stroke="#36602a" stroke-width="0.7"/>
<circle cx="358.3" cy="87.8" r="3.5" fill="#6ac63e" stroke="#36602a" stroke-width="0.7"/>
<circle cx="361.2" cy="83.7" r="3.5" fill="#6ac63e" stroke="#36602a" stroke-width="0.7"/>
<circle cx="366.1" cy="81" r="3.5" fill="#6ac63e" stroke="#36602a" stroke-width="0.7"/>
<circle cx="367.4" cy="83.7" r="3.5" fill="#6ac63e" stroke="#36602a" stroke-width="0.7"/>
<circle cx="372.8" cy="82.2" r="3.5" fill="#6ac63e" stroke="#36602a" stroke-width="0.7"/>
<circle cx="369" cy="88" r="3.5" fill="#6ac63e" stroke="#36602a" stroke-width="0.7"/>
<circle cx="369.6" cy="92" r="3.5" fill="#6ac63e" stroke="#36602a" stroke-width="0.7"/>
<circle cx="361" cy="105.9" r="3.5" fill="#6ac63e" stroke="#36602a" stroke-width="0.7"/>
<circle cx="366.3" cy="100.5" r="3.5" fill="#6ac63e" stroke="#36602a" stroke-width="0.7"/>
<circle cx="372" cy="101.6" r="3.5" fill="#6ac63e" stroke="#36602a" stroke-width="0.7"/>
<circle cx="371" cy="106.5" r="3.5" fill="#6ac63e" stroke="#36602a" stroke-width="0.7"/>
<circle cx="377.3" cy="103.4" r="3.5" fill="#6ac63e" stroke="#36602a" stroke-width="0.7"/>
<circle cx="381.3" cy="96.9" r="3.5" fill="#6ac63e" stroke="#36602a" stroke-width="0.7"/>
<circle cx="386.2" cy="107.9" r="3.5" fill="#6ac63e" stroke="#36602a" stroke-width="0.7"/>
<circle cx="406.8" cy="104.7" r="3.5" fill="#6ac63e" stroke="#36602a" stroke-width="0.7"/>
<circle cx="410.8" cy="82.4" r="3.5" fill="#6ac63e" stroke="#36602a" stroke-width="0.7"/>
<circle cx="420.6" cy="69" r="3.5" fill="#6ac63e" stroke="#36602a" stroke-width="0.7"/>
<circle cx="348.6" cy="93.5" r="3.5" fill="#f3761f" stroke="#5a3318" stroke-width="0.7"/>
<circle cx="382.4" cy="102" r="3.5" fill="#f3761f" stroke="#5a3318" stroke-width="0.7"/>
<circle cx="373.8" cy="123.5" r="3.5" fill="#f3761f" stroke="#5a3318" stroke-width="0.7"/>
<circle cx="373.4" cy="135" r="3.5" fill="#f3761f" stroke="#5a3318" stroke-width="0.7"/>
<circle cx="381" cy="135.8" r="3.5" fill="#f3761f" stroke="#5a3318" stroke-width="0.7"/>
<circle cx="384.1" cy="139.1" r="3.5" fill="#f3761f" stroke="#5a3318" stroke-width="0.7"/>
<circle cx="389.7" cy="140.5" r="3.5" fill="#f3761f" stroke="#5a3318" stroke-width="0.7"/>
<circle cx="397.1" cy="135.8" r="3.5" fill="#f3761f" stroke="#5a3318" stroke-width="0.7"/>
<circle cx="411.3" cy="135.8" r="3.5" fill="#f3761f" stroke="#5a3318" stroke-width="0.7"/>
<circle cx="431.5" cy="134.6" r="3.5" fill="#f3761f" stroke="#5a3318" stroke-width="0.7"/>
<circle cx="406.6" cy="120.3" r="3.5" fill="#f3761f" stroke="#5a3318" stroke-width="0.7"/>
<circle cx="370.5" cy="165.9" r="3.5" fill="#f3761f" stroke="#5a3318" stroke-width="0.7"/>
<circle cx="353.3" cy="76.5" r="3.5" fill="#3849b8" stroke="#1a2450" stroke-width="0.7"/>
<circle cx="377.2" cy="54.3" r="3.5" fill="#3849b8" stroke="#1a2450" stroke-width="0.7"/>
<circle cx="378.3" cy="57.5" r="3.5" fill="#3849b8" stroke="#1a2450" stroke-width="0.7"/>
<circle cx="376" cy="64.9" r="3.5" fill="#3849b8" stroke="#1a2450" stroke-width="0.7"/>
<circle cx="412.2" cy="63.9" r="3.5" fill="#3849b8" stroke="#1a2450" stroke-width="0.7"/>
<circle cx="421.4" cy="59" r="3.5" fill="#3849b8" stroke="#1a2450" stroke-width="0.7"/>
<circle cx="427.6" cy="61.2" r="3.5" fill="#3849b8" stroke="#1a2450" stroke-width="0.7"/>
<circle cx="464.9" cy="44.7" r="3.5" fill="#3849b8" stroke="#1a2450" stroke-width="0.7"/>
<circle cx="473.3" cy="45.5" r="3.5" fill="#3849b8" stroke="#1a2450" stroke-width="0.7"/>
<circle cx="466.7" cy="59.5" r="3.5" fill="#3849b8" stroke="#1a2450" stroke-width="0.7"/>
<circle cx="468.7" cy="62" r="3.5" fill="#3849b8" stroke="#1a2450" stroke-width="0.7"/>
<circle cx="485.8" cy="54.4" r="3.5" fill="#3849b8" stroke="#1a2450" stroke-width="0.7"/>
<circle cx="487.8" cy="58.7" r="3.5" fill="#3849b8" stroke="#1a2450" stroke-width="0.7"/>
<circle cx="491.6" cy="62.8" r="3.5" fill="#3849b8" stroke="#1a2450" stroke-width="0.7"/>
<circle cx="496.2" cy="54.4" r="3.5" fill="#3849b8" stroke="#1a2450" stroke-width="0.7"/>
<circle cx="499.3" cy="47" r="3.5" fill="#3849b8" stroke="#1a2450" stroke-width="0.7"/>
<circle cx="513.8" cy="60.7" r="3.5" fill="#3849b8" stroke="#1a2450" stroke-width="0.7"/>
<circle cx="524.7" cy="39.9" r="3.5" fill="#3849b8" stroke="#1a2450" stroke-width="0.7"/>
<circle cx="534.9" cy="34" r="3.5" fill="#3849b8" stroke="#1a2450" stroke-width="0.7"/>
</g>
<clipPath id="cpd"><rect x="320.1" y="197.6" width="218.3" height="178"/></clipPath>
<g clip-path="url(#cpd)">
<path d="M359.3 225.5V285M357.6 225.5H361M357.6 285H361" stroke="#000" stroke-opacity="0.47" stroke-width="1" fill="none"/>
<path d="M362.2 248.6V290M360.5 248.6H363.9M360.5 290H363.9" stroke="#000" stroke-opacity="0.47" stroke-width="1" fill="none"/>
<path d="M359.3 255V295M357.6 255H361M357.6 295H361" stroke="#000" stroke-opacity="0.47" stroke-width="1" fill="none"/>
<path d="M372.4 242.3V295M370.7 242.3H374.1M370.7 295H374.1" stroke="#000" stroke-opacity="0.47" stroke-width="1" fill="none"/>
<path d="M370 262V298M368.3 262H371.7M368.3 298H371.7" stroke="#000" stroke-opacity="0.47" stroke-width="1" fill="none"/>
<path d="M369.7 268V300M368 268H371.4M368 300H371.4" stroke="#000" stroke-opacity="0.47" stroke-width="1" fill="none"/>
<path d="M368.4 275V305M366.7 275H370.1M366.7 305H370.1" stroke="#000" stroke-opacity="0.47" stroke-width="1" fill="none"/>
<path d="M372.7 276V307M371 276H374.4M371 307H374.4" stroke="#000" stroke-opacity="0.47" stroke-width="1" fill="none"/>
<path d="M386.6 256.4V300M384.9 256.4H388.3M384.9 300H388.3" stroke="#000" stroke-opacity="0.47" stroke-width="1" fill="none"/>
<path d="M361.8 285V315M360.1 285H363.5M360.1 315H363.5" stroke="#000" stroke-opacity="0.47" stroke-width="1" fill="none"/>
<path d="M359.7 288V318M358 288H361.4M358 318H361.4" stroke="#000" stroke-opacity="0.47" stroke-width="1" fill="none"/>
<path d="M366.7 285V320M365 285H368.4M365 320H368.4" stroke="#000" stroke-opacity="0.47" stroke-width="1" fill="none"/>
<path d="M366.9 290V325M365.2 290H368.6M365.2 325H368.6" stroke="#000" stroke-opacity="0.47" stroke-width="1" fill="none"/>
<path d="M357.2 295V335M355.5 295H358.9M355.5 335H358.9" stroke="#000" stroke-opacity="0.47" stroke-width="1" fill="none"/>
<path d="M377.7 292V325M376 292H379.4M376 325H379.4" stroke="#000" stroke-opacity="0.47" stroke-width="1" fill="none"/>
<path d="M381.5 298V330M379.8 298H383.2M379.8 330H383.2" stroke="#000" stroke-opacity="0.47" stroke-width="1" fill="none"/>
<path d="M371.3 300V335M369.6 300H373M369.6 335H373" stroke="#000" stroke-opacity="0.47" stroke-width="1" fill="none"/>
<path d="M371.8 305V338M370.1 305H373.5M370.1 338H373.5" stroke="#000" stroke-opacity="0.47" stroke-width="1" fill="none"/>
<path d="M377.7 303V335M376 303H379.4M376 335H379.4" stroke="#000" stroke-opacity="0.47" stroke-width="1" fill="none"/>
<path d="M346.9 305V332M345.2 305H348.6M345.2 332H348.6" stroke="#000" stroke-opacity="0.47" stroke-width="1" fill="none"/>
<path d="M353.3 307V340M351.6 307H355M351.6 340H355" stroke="#000" stroke-opacity="0.47" stroke-width="1" fill="none"/>
<path d="M407.1 235.2V292.4M405.4 235.2H408.8M405.4 292.4H408.8" stroke="#000" stroke-opacity="0.47" stroke-width="1" fill="none"/>
<path d="M411.5 245.4V283.5M409.8 245.4H413.2M409.8 283.5H413.2" stroke="#000" stroke-opacity="0.47" stroke-width="1" fill="none"/>
<path d="M421.3 299.5V325.1M419.6 299.5H423M419.6 325.1H423" stroke="#000" stroke-opacity="0.47" stroke-width="1" fill="none"/>
<path d="M349 281.5V302M347.3 281.5H350.7M347.3 302H350.7" stroke="#000" stroke-opacity="0.47" stroke-width="1" fill="none"/>
<path d="M383 274.3V292M381.3 274.3H384.7M381.3 292H384.7" stroke="#000" stroke-opacity="0.47" stroke-width="1" fill="none"/>
<path d="M373.8 326V345M372.1 326H375.5M372.1 345H375.5" stroke="#000" stroke-opacity="0.47" stroke-width="1" fill="none"/>
<path d="M374.1 333V352M372.4 333H375.8M372.4 352H375.8" stroke="#000" stroke-opacity="0.47" stroke-width="1" fill="none"/>
<path d="M381.5 322V340M379.8 322H383.2M379.8 340H383.2" stroke="#000" stroke-opacity="0.47" stroke-width="1" fill="none"/>
<path d="M384.6 320V345M382.9 320H386.3M382.9 345H386.3" stroke="#000" stroke-opacity="0.47" stroke-width="1" fill="none"/>
<path d="M389.7 333V349M388 333H391.4M388 349H391.4" stroke="#000" stroke-opacity="0.47" stroke-width="1" fill="none"/>
<path d="M397.7 321V340M396 321H399.4M396 340H399.4" stroke="#000" stroke-opacity="0.47" stroke-width="1" fill="none"/>
<path d="M407.2 320V339M405.5 320H408.9M405.5 339H408.9" stroke="#000" stroke-opacity="0.47" stroke-width="1" fill="none"/>
<path d="M412.3 321V340M410.6 321H414M410.6 340H414" stroke="#000" stroke-opacity="0.47" stroke-width="1" fill="none"/>
<path d="M430.3 330V348M428.6 330H432M428.6 348H432" stroke="#000" stroke-opacity="0.47" stroke-width="1" fill="none"/>
<path d="M371.3 348.2V368.2M369.6 348.2H373M369.6 368.2H373" stroke="#000" stroke-opacity="0.47" stroke-width="1" fill="none"/>
<path d="M353.9 246.6V285M352.2 246.6H355.6M352.2 285H355.6" stroke="#000" stroke-opacity="0.47" stroke-width="1" fill="none"/>
<path d="M377 250.4V288M375.3 250.4H378.7M375.3 288H378.7" stroke="#000" stroke-opacity="0.47" stroke-width="1" fill="none"/>
<path d="M378.7 247V290M377 247H380.4M377 290H380.4" stroke="#000" stroke-opacity="0.47" stroke-width="1" fill="none"/>
<path d="M412.7 225.8V287.4M411 225.8H414.4M411 287.4H414.4" stroke="#000" stroke-opacity="0.47" stroke-width="1" fill="none"/>
<path d="M421.9 230.6V282.8M420.2 230.6H423.6M420.2 282.8H423.6" stroke="#000" stroke-opacity="0.47" stroke-width="1" fill="none"/>
<path d="M428.3 258.1V300M426.6 258.1H430M426.6 300H430" stroke="#000" stroke-opacity="0.47" stroke-width="1" fill="none"/>
<path d="M467.4 225.8V282M465.7 225.8H469.1M465.7 282H469.1" stroke="#000" stroke-opacity="0.47" stroke-width="1" fill="none"/>
<path d="M464.9 248.7V276.7M463.2 248.7H466.6M463.2 276.7H466.6" stroke="#000" stroke-opacity="0.47" stroke-width="1" fill="none"/>
<path d="M473.3 246.6V272.1M471.6 246.6H475M471.6 272.1H475" stroke="#000" stroke-opacity="0.47" stroke-width="1" fill="none"/>
<path d="M468.7 268.3V293.2M467 268.3H470.4M467 293.2H470.4" stroke="#000" stroke-opacity="0.47" stroke-width="1" fill="none"/>
<path d="M487.8 209.2V266M486.1 209.2H489.5M486.1 266H489.5" stroke="#000" stroke-opacity="0.47" stroke-width="1" fill="none"/>
<path d="M486 216.1V268.3M484.3 216.1H487.7M484.3 268.3H487.7" stroke="#000" stroke-opacity="0.47" stroke-width="1" fill="none"/>
<path d="M491.6 236.5V279.7M489.9 236.5H493.3M489.9 279.7H493.3" stroke="#000" stroke-opacity="0.47" stroke-width="1" fill="none"/>
<path d="M496.2 216.1V287.4M494.5 216.1H497.9M494.5 287.4H497.9" stroke="#000" stroke-opacity="0.47" stroke-width="1" fill="none"/>
<path d="M499.3 211.8V273.4M497.6 211.8H501M497.6 273.4H501" stroke="#000" stroke-opacity="0.47" stroke-width="1" fill="none"/>
<path d="M514 243.3V269.5M512.3 243.3H515.7M512.3 269.5H515.7" stroke="#000" stroke-opacity="0.47" stroke-width="1" fill="none"/>
<path d="M524.7 211.5V236.5M523 211.5H526.4M523 236.5H526.4" stroke="#000" stroke-opacity="0.47" stroke-width="1" fill="none"/>
<path d="M534.9 255.5V300M533.2 255.5H536.6M533.2 300H536.6" stroke="#000" stroke-opacity="0.47" stroke-width="1" fill="none"/>
<circle cx="359.3" cy="256.4" r="3.5" fill="#6ac63e" stroke="#36602a" stroke-width="0.7"/>
<circle cx="362.2" cy="269.4" r="3.5" fill="#6ac63e" stroke="#36602a" stroke-width="0.7"/>
<circle cx="359.3" cy="273" r="3.5" fill="#6ac63e" stroke="#36602a" stroke-width="0.7"/>
<circle cx="372.4" cy="268.3" r="3.5" fill="#6ac63e" stroke="#36602a" stroke-width="0.7"/>
<circle cx="370" cy="279.5" r="3.5" fill="#6ac63e" stroke="#36602a" stroke-width="0.7"/>
<circle cx="369.7" cy="284.1" r="3.5" fill="#6ac63e" stroke="#36602a" stroke-width="0.7"/>
<circle cx="368.4" cy="289" r="3.5" fill="#6ac63e" stroke="#36602a" stroke-width="0.7"/>
<circle cx="372.7" cy="290" r="3.5" fill="#6ac63e" stroke="#36602a" stroke-width="0.7"/>
<circle cx="386.6" cy="280.4" r="3.5" fill="#6ac63e" stroke="#36602a" stroke-width="0.7"/>
<circle cx="361.8" cy="296.9" r="3.5" fill="#6ac63e" stroke="#36602a" stroke-width="0.7"/>
<circle cx="359.7" cy="300.8" r="3.5" fill="#6ac63e" stroke="#36602a" stroke-width="0.7"/>
<circle cx="366.7" cy="297.7" r="3.5" fill="#6ac63e" stroke="#36602a" stroke-width="0.7"/>
<circle cx="366.9" cy="304.1" r="3.5" fill="#6ac63e" stroke="#36602a" stroke-width="0.7"/>
<circle cx="357.2" cy="308.5" r="3.5" fill="#6ac63e" stroke="#36602a" stroke-width="0.7"/>
<circle cx="377.7" cy="306.4" r="3.5" fill="#6ac63e" stroke="#36602a" stroke-width="0.7"/>
<circle cx="381.5" cy="312.3" r="3.5" fill="#6ac63e" stroke="#36602a" stroke-width="0.7"/>
<circle cx="371.3" cy="313.1" r="3.5" fill="#6ac63e" stroke="#36602a" stroke-width="0.7"/>
<circle cx="371.8" cy="317.4" r="3.5" fill="#6ac63e" stroke="#36602a" stroke-width="0.7"/>
<circle cx="377.7" cy="316.2" r="3.5" fill="#6ac63e" stroke="#36602a" stroke-width="0.7"/>
<circle cx="346.9" cy="318.7" r="3.5" fill="#6ac63e" stroke="#36602a" stroke-width="0.7"/>
<circle cx="353.3" cy="320.3" r="3.5" fill="#6ac63e" stroke="#36602a" stroke-width="0.7"/>
<circle cx="407.1" cy="263.7" r="3.5" fill="#6ac63e" stroke="#36602a" stroke-width="0.7"/>
<circle cx="411.5" cy="264.4" r="3.5" fill="#6ac63e" stroke="#36602a" stroke-width="0.7"/>
<circle cx="421.3" cy="311.8" r="3.5" fill="#6ac63e" stroke="#36602a" stroke-width="0.7"/>
<circle cx="349" cy="291.7" r="3.5" fill="#f3761f" stroke="#5a3318" stroke-width="0.7"/>
<circle cx="383" cy="283.4" r="3.5" fill="#f3761f" stroke="#5a3318" stroke-width="0.7"/>
<circle cx="373.8" cy="335.4" r="3.5" fill="#f3761f" stroke="#5a3318" stroke-width="0.7"/>
<circle cx="374.1" cy="342.3" r="3.5" fill="#f3761f" stroke="#5a3318" stroke-width="0.7"/>
<circle cx="381.5" cy="330.3" r="3.5" fill="#f3761f" stroke="#5a3318" stroke-width="0.7"/>
<circle cx="384.6" cy="329" r="3.5" fill="#f3761f" stroke="#5a3318" stroke-width="0.7"/>
<circle cx="389.7" cy="341.3" r="3.5" fill="#f3761f" stroke="#5a3318" stroke-width="0.7"/>
<circle cx="397.7" cy="330.5" r="3.5" fill="#f3761f" stroke="#5a3318" stroke-width="0.7"/>
<circle cx="407.2" cy="329.7" r="3.5" fill="#f3761f" stroke="#5a3318" stroke-width="0.7"/>
<circle cx="412.3" cy="330.5" r="3.5" fill="#f3761f" stroke="#5a3318" stroke-width="0.7"/>
<circle cx="430.3" cy="339.2" r="3.5" fill="#f3761f" stroke="#5a3318" stroke-width="0.7"/>
<circle cx="371.3" cy="358.5" r="3.5" fill="#f3761f" stroke="#5a3318" stroke-width="0.7"/>
<circle cx="353.9" cy="266" r="3.5" fill="#3849b8" stroke="#1a2450" stroke-width="0.7"/>
<circle cx="377" cy="269.4" r="3.5" fill="#3849b8" stroke="#1a2450" stroke-width="0.7"/>
<circle cx="378.7" cy="268" r="3.5" fill="#3849b8" stroke="#1a2450" stroke-width="0.7"/>
<circle cx="412.7" cy="256.8" r="3.5" fill="#3849b8" stroke="#1a2450" stroke-width="0.7"/>
<circle cx="421.9" cy="256.8" r="3.5" fill="#3849b8" stroke="#1a2450" stroke-width="0.7"/>
<circle cx="428.3" cy="279.2" r="3.5" fill="#3849b8" stroke="#1a2450" stroke-width="0.7"/>
<circle cx="467.4" cy="254.3" r="3.5" fill="#3849b8" stroke="#1a2450" stroke-width="0.7"/>
<circle cx="464.9" cy="262.7" r="3.5" fill="#3849b8" stroke="#1a2450" stroke-width="0.7"/>
<circle cx="473.3" cy="259.4" r="3.5" fill="#3849b8" stroke="#1a2450" stroke-width="0.7"/>
<circle cx="468.7" cy="280.5" r="3.5" fill="#3849b8" stroke="#1a2450" stroke-width="0.7"/>
<circle cx="487.8" cy="237.7" r="3.5" fill="#3849b8" stroke="#1a2450" stroke-width="0.7"/>
<circle cx="486" cy="242.3" r="3.5" fill="#3849b8" stroke="#1a2450" stroke-width="0.7"/>
<circle cx="491.6" cy="258.1" r="3.5" fill="#3849b8" stroke="#1a2450" stroke-width="0.7"/>
<circle cx="496.2" cy="251.7" r="3.5" fill="#3849b8" stroke="#1a2450" stroke-width="0.7"/>
<circle cx="499.3" cy="242.3" r="3.5" fill="#3849b8" stroke="#1a2450" stroke-width="0.7"/>
<circle cx="514" cy="256.3" r="3.5" fill="#3849b8" stroke="#1a2450" stroke-width="0.7"/>
<circle cx="524.7" cy="223.7" r="3.5" fill="#3849b8" stroke="#1a2450" stroke-width="0.7"/>
<circle cx="534.9" cy="277.2" r="3.5" fill="#3849b8" stroke="#1a2450" stroke-width="0.7"/>
</g>
<rect x="46" y="7.7" width="218.5" height="179.1" fill="none" stroke="#000" stroke-width="1.4"/>
<rect x="46.5" y="197.5" width="217" height="177.3" fill="none" stroke="#000" stroke-width="1.4"/>
<rect x="319.3" y="8.7" width="219.3" height="179.4" fill="none" stroke="#000" stroke-width="1.4"/>
<rect x="320.1" y="197.6" width="218.3" height="178" fill="none" stroke="#000" stroke-width="1.4"/>
<path d="M42 7.7H46" stroke="#000" stroke-width="1.2"/>
<text x="39.7" y="10.1" font-size="9.8" font-weight="bold" text-anchor="end" class="bt">240</text>
<path d="M42 67.4H46" stroke="#000" stroke-width="1.2"/>
<text x="39.7" y="69.8" font-size="9.8" font-weight="bold" text-anchor="end" class="bt">220</text>
<path d="M42 127.1H46" stroke="#000" stroke-width="1.2"/>
<text x="39.7" y="129.5" font-size="9.8" font-weight="bold" text-anchor="end" class="bt">200</text>
<path d="M42 186.8H46" stroke="#000" stroke-width="1.2"/>
<text x="39.7" y="189.2" font-size="9.8" font-weight="bold" text-anchor="end" class="bt">180</text>
<path d="M46 186.8V190.3" stroke="#000" stroke-width="1.2"/>
<path d="M82.42 186.8V190.3" stroke="#000" stroke-width="1.2"/>
<path d="M118.83 186.8V190.3" stroke="#000" stroke-width="1.2"/>
<path d="M155.25 186.8V190.3" stroke="#000" stroke-width="1.2"/>
<path d="M191.67 186.8V190.3" stroke="#000" stroke-width="1.2"/>
<path d="M228.08 186.8V190.3" stroke="#000" stroke-width="1.2"/>
<path d="M264.5 186.8V190.3" stroke="#000" stroke-width="1.2"/>
<path d="M42.5 197.5H46.5" stroke="#000" stroke-width="1.2"/>
<text x="40.2" y="199.9" font-size="9.8" font-weight="bold" text-anchor="end" class="bt">260</text>
<path d="M42.5 256.6H46.5" stroke="#000" stroke-width="1.2"/>
<text x="40.2" y="259" font-size="9.8" font-weight="bold" text-anchor="end" class="bt">235</text>
<path d="M42.5 315.7H46.5" stroke="#000" stroke-width="1.2"/>
<text x="40.2" y="318.1" font-size="9.8" font-weight="bold" text-anchor="end" class="bt">210</text>
<path d="M42.5 374.8H46.5" stroke="#000" stroke-width="1.2"/>
<text x="40.2" y="377.2" font-size="9.8" font-weight="bold" text-anchor="end" class="bt">185</text>
<path d="M46.5 374.8V378.3" stroke="#000" stroke-width="1.2"/>
<path d="M82.67 374.8V378.3" stroke="#000" stroke-width="1.2"/>
<path d="M118.83 374.8V378.3" stroke="#000" stroke-width="1.2"/>
<path d="M155 374.8V378.3" stroke="#000" stroke-width="1.2"/>
<path d="M191.17 374.8V378.3" stroke="#000" stroke-width="1.2"/>
<path d="M227.33 374.8V378.3" stroke="#000" stroke-width="1.2"/>
<path d="M263.5 374.8V378.3" stroke="#000" stroke-width="1.2"/>
<path d="M315.3 8.7H319.3" stroke="#000" stroke-width="1.2"/>
<text x="313" y="11.1" font-size="9.8" font-weight="bold" text-anchor="end" class="bt">240</text>
<path d="M315.3 68.5H319.3" stroke="#000" stroke-width="1.2"/>
<text x="313" y="70.9" font-size="9.8" font-weight="bold" text-anchor="end" class="bt">220</text>
<path d="M315.3 128.3H319.3" stroke="#000" stroke-width="1.2"/>
<text x="313" y="130.7" font-size="9.8" font-weight="bold" text-anchor="end" class="bt">200</text>
<path d="M315.3 188.1H319.3" stroke="#000" stroke-width="1.2"/>
<text x="313" y="190.5" font-size="9.8" font-weight="bold" text-anchor="end" class="bt">180</text>
<path d="M319.3 188.1V191.6" stroke="#000" stroke-width="1.2"/>
<path d="M350.63 188.1V191.6" stroke="#000" stroke-width="1.2"/>
<path d="M381.96 188.1V191.6" stroke="#000" stroke-width="1.2"/>
<path d="M413.29 188.1V191.6" stroke="#000" stroke-width="1.2"/>
<path d="M444.61 188.1V191.6" stroke="#000" stroke-width="1.2"/>
<path d="M475.94 188.1V191.6" stroke="#000" stroke-width="1.2"/>
<path d="M507.27 188.1V191.6" stroke="#000" stroke-width="1.2"/>
<path d="M538.6 188.1V191.6" stroke="#000" stroke-width="1.2"/>
<path d="M316.1 197.6H320.1" stroke="#000" stroke-width="1.2"/>
<text x="313.8" y="200" font-size="9.8" font-weight="bold" text-anchor="end" class="bt">260</text>
<path d="M316.1 256.93H320.1" stroke="#000" stroke-width="1.2"/>
<text x="313.8" y="259.33" font-size="9.8" font-weight="bold" text-anchor="end" class="bt">235</text>
<path d="M316.1 316.27H320.1" stroke="#000" stroke-width="1.2"/>
<text x="313.8" y="318.67" font-size="9.8" font-weight="bold" text-anchor="end" class="bt">210</text>
<path d="M316.1 375.6H320.1" stroke="#000" stroke-width="1.2"/>
<text x="313.8" y="378" font-size="9.8" font-weight="bold" text-anchor="end" class="bt">185</text>
<path d="M320.1 375.6V379.1" stroke="#000" stroke-width="1.2"/>
<path d="M351.29 375.6V379.1" stroke="#000" stroke-width="1.2"/>
<path d="M382.47 375.6V379.1" stroke="#000" stroke-width="1.2"/>
<path d="M413.66 375.6V379.1" stroke="#000" stroke-width="1.2"/>
<path d="M444.84 375.6V379.1" stroke="#000" stroke-width="1.2"/>
<path d="M476.03 375.6V379.1" stroke="#000" stroke-width="1.2"/>
<path d="M507.21 375.6V379.1" stroke="#000" stroke-width="1.2"/>
<path d="M538.4 375.6V379.1" stroke="#000" stroke-width="1.2"/>
<text x="46.5" y="392.4" font-size="9.9" font-weight="bold" text-anchor="middle" class="bt">85.0</text>
<text x="82.67" y="392.4" font-size="9.9" font-weight="bold" text-anchor="middle" class="bt">87.5</text>
<text x="118.83" y="392.4" font-size="9.9" font-weight="bold" text-anchor="middle" class="bt">90.0</text>
<text x="155" y="392.4" font-size="9.9" font-weight="bold" text-anchor="middle" class="bt">92.5</text>
<text x="191.17" y="392.4" font-size="9.9" font-weight="bold" text-anchor="middle" class="bt">95.0</text>
<text x="227.33" y="392.4" font-size="9.9" font-weight="bold" text-anchor="middle" class="bt">97.5</text>
<text x="263.5" y="392.4" font-size="9.9" font-weight="bold" text-anchor="middle" class="bt">100.0</text>
<text x="320.1" y="393" font-size="9.9" font-weight="bold" text-anchor="middle" class="bt">5.0</text>
<text x="351.29" y="393" font-size="9.9" font-weight="bold" text-anchor="middle" class="bt">10.0</text>
<text x="382.47" y="393" font-size="9.9" font-weight="bold" text-anchor="middle" class="bt">15.0</text>
<text x="413.66" y="393" font-size="9.9" font-weight="bold" text-anchor="middle" class="bt">20.0</text>
<text x="444.84" y="393" font-size="9.9" font-weight="bold" text-anchor="middle" class="bt">25.0</text>
<text x="476.03" y="393" font-size="9.9" font-weight="bold" text-anchor="middle" class="bt">30.0</text>
<text x="507.21" y="393" font-size="9.9" font-weight="bold" text-anchor="middle" class="bt">35.0</text>
<text x="538.4" y="393" font-size="9.9" font-weight="bold" text-anchor="middle" class="bt">40.0</text>
<text x="154.9" y="408.4" font-size="10.4" font-weight="bold" text-anchor="middle" class="bt" textLength="22.4" lengthAdjust="spacingAndGlyphs">#Mn</text>
<text x="429.1" y="409.4" font-size="11" font-weight="bold" text-anchor="middle" class="bt">#Ta</text>
<text x="53.5" y="181.2" font-size="21" fill="#111">a</text>
<text x="53.5" y="371.8" font-size="21" fill="#111">b</text>
<text x="328.5" y="181.2" font-size="21" fill="#111">c</text>
<text x="328.5" y="370.5" font-size="21" fill="#111">d</text>
<text transform="translate(15.8 143.3) rotate(-90)" font-size="11" font-weight="bold" class="bt"><tspan font-size="9" dy="-3.0">206</tspan><tspan dy="3.0">Pb</tspan><tspan dx="6.2" font-size="9" dy="-3.0">238</tspan><tspan dx="0.5" dy="3.0">U</tspan><tspan dx="0.9"> (Ma)</tspan></text><path d="M15.4 113.5L7.4 108.1" stroke="#111" stroke-width="1.25"/>
<text transform="translate(16.3 332.3) rotate(-90)" font-size="11" font-weight="bold" class="bt"><tspan font-size="9" dy="-3.0">207</tspan><tspan dy="3.0">Pb</tspan><tspan dx="6.2" font-size="9" dy="-3.0">235</tspan><tspan dx="0.5" dy="3.0">U</tspan><tspan dx="0.9"> (Ma)</tspan></text><path d="M15.9 302.5L7.9 297.1" stroke="#111" stroke-width="1.25"/>
<text transform="translate(289.3 144) rotate(-90)" font-size="11" font-weight="bold" class="bt"><tspan font-size="9" dy="-3.0">206</tspan><tspan dy="3.0">Pb</tspan><tspan dx="6.2" font-size="9" dy="-3.0">238</tspan><tspan dx="0.5" dy="3.0">U</tspan><tspan dx="0.9"> (Ma)</tspan></text><path d="M288.9 114.2L280.9 108.8" stroke="#111" stroke-width="1.25"/>
<text transform="translate(289.7 332) rotate(-90)" font-size="11" font-weight="bold" class="bt"><tspan font-size="9" dy="-3.0">207</tspan><tspan dy="3.0">Pb</tspan><tspan dx="6.2" font-size="9" dy="-3.0">235</tspan><tspan dx="0.5" dy="3.0">U</tspan><tspan dx="0.9"> (Ma)</tspan></text><path d="M289.3 302.2L281.3 296.8" stroke="#111" stroke-width="1.25"/>
<circle cx="214.6" cy="19.7" r="3.3" fill="#6ac63e" stroke="#3d7a28" stroke-width="0.9"/>
<text x="223.3" y="23.7" font-size="9.8" fill="#2a2a2a" stroke="#2a2a2a" stroke-width="0.12">No. 802</text>
<circle cx="214.6" cy="33.55" r="3.3" fill="#f3761f" stroke="#9a4a18" stroke-width="0.9"/>
<text x="223.3" y="37.55" font-size="9.8" fill="#2a2a2a" stroke="#2a2a2a" stroke-width="0.12">No. 803</text>
<circle cx="214.6" cy="47.4" r="3.3" fill="#3246b0" stroke="#1e2a70" stroke-width="0.9"/>
<text x="223.3" y="51.4" font-size="9.8" fill="#2a2a2a" stroke="#2a2a2a" stroke-width="0.12">No. 805</text>
</svg></body></html>
